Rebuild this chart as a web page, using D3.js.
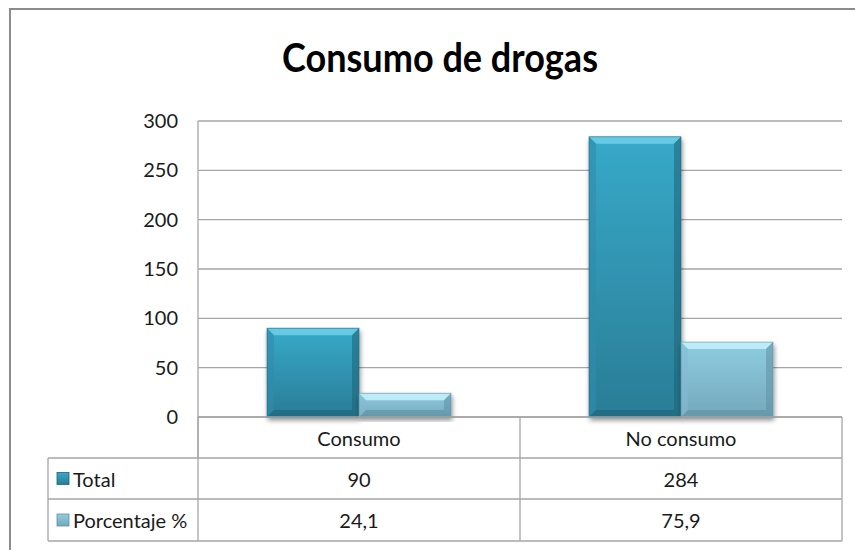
<!DOCTYPE html>
<html>
<head>
<meta charset="utf-8">
<script src="https://cdn.jsdelivr.net/npm/d3@7"></script>
<style>
  html, body { margin: 0; padding: 0; background: #fff; }
  svg text { font-family: Lato, "Open Sans", sans-serif; }
</style>
</head>
<body>
<svg id="chart" width="855" height="550"></svg>
<script>
const title = "Consumo de drogas";
const categories = ["Consumo", "No consumo"];
const seriesNames = ["Total", "Porcentaje %"];
const totalValues = [90, 284];
const percentValues = [24.1, 75.9];
const percentLabels = ["24,1", "75,9"];
const yTicks = [0, 50, 100, 150, 200, 250, 300];

const svg = d3.select("#chart");
const plot = { left: 198, right: 842, top: 121, bottom: 417 };
const textColor = "#1a1a1a";

const defs = svg.append("defs");
function grad(id, stops) {
  const g = defs.append("linearGradient").attr("id", id).attr("x1", 0).attr("y1", 0).attr("x2", 0).attr("y2", 1);
  stops.forEach(s => g.append("stop").attr("offset", s[0]).attr("stop-color", s[1]));
}
grad("gTotal", [[0, "#37a9c9"], [1, "#2a7d96"]]);
grad("gPct", [[0, "#8fcde2"], [1, "#75a8bb"]]);
const f = defs.append("filter").attr("id", "shadow").attr("x", "-20%").attr("y", "-20%").attr("width", "140%").attr("height", "140%");
f.append("feGaussianBlur").attr("in", "SourceAlpha").attr("stdDeviation", 2.5);
f.append("feOffset").attr("dx", 1).attr("dy", 3).attr("result", "ob");
f.append("feComponentTransfer").append("feFuncA").attr("type", "linear").attr("slope", 0.45);
const fm = f.append("feMerge");
fm.append("feMergeNode");
fm.append("feMergeNode").attr("in", "SourceGraphic");

// outer frame
svg.append("rect").attr("x", 10).attr("y", 9).attr("width", 900).attr("height", 600)
  .attr("fill", "none").attr("stroke", "#8c8c8c").attr("stroke-width", 2);

// title
svg.append("text").attr("x", 440).attr("y", 72).attr("text-anchor", "middle")
  .attr("font-size", 40).attr("font-weight", "bold").attr("fill", "#000")
  .attr("textLength", 316).attr("lengthAdjust", "spacingAndGlyphs").text(title);

const y = d3.scaleLinear().domain([0, 300]).range([plot.bottom, plot.top]);
const x0 = d3.scaleBand().domain(categories).range([plot.left, plot.right]);
const x1 = d3.scaleBand().domain(seriesNames).range([0, x0.bandwidth()]).paddingOuter(0.75).paddingInner(0);

// gridlines
svg.append("g").selectAll("line").data(yTicks).join("line")
  .attr("x1", plot.left).attr("x2", plot.right)
  .attr("y1", d => y(d)).attr("y2", d => y(d))
  .attr("stroke", "#a6a6a6").attr("stroke-width", 1.3);

// y-axis line
svg.append("line").attr("x1", plot.left).attr("x2", plot.left).attr("y1", plot.top).attr("y2", 458)
  .attr("stroke", "#a6a6a6").attr("stroke-width", 1.3);

// y tick labels
const yAxis = d3.axisLeft(y).tickValues(yTicks).tickSize(0).tickPadding(20);
const ya = svg.append("g").attr("transform", `translate(${plot.left},0)`).call(yAxis);
ya.select(".domain").remove();
ya.selectAll("text").attr("font-size", 20).attr("fill", textColor)
  .style("font-family", 'Lato, "Open Sans", sans-serif');

// bars
const data = [];
categories.forEach((c, i) => {
  data.push({ cat: c, s: seriesNames[0], v: totalValues[i], fill: "url(#gTotal)", light: "#6fd0ea", dark: "#1f6377", side: "#2f8cab" });
  data.push({ cat: c, s: seriesNames[1], v: percentValues[i], fill: "url(#gPct)", light: "#c6f1fb", dark: "#5f8fa2", side: "#86bbd0" });
});
const bev = 7;
const bars = svg.append("g").selectAll("g").data(data).join("g").attr("filter", "url(#shadow)");
bars.each(function(d) {
  const g = d3.select(this);
  const bx = x0(d.cat) + x1(d.s), bw = x1.bandwidth();
  const by = y(d.v), bh = y(0) - y(d.v);
  const b = Math.min(bev, bh / 2);
  g.append("rect").attr("x", bx).attr("y", by).attr("width", bw).attr("height", bh).attr("fill", d.fill);
  g.append("polygon").attr("points", [[bx, by], [bx + bw, by], [bx + bw - b, by + b], [bx + b, by + b]].join(" "))
    .attr("fill", d.light).attr("opacity", 0.85);
  g.append("polygon").attr("points", [[bx, by], [bx + b, by + b], [bx + b, by + bh - b], [bx, by + bh]].join(" "))
    .attr("fill", d.side).attr("opacity", 0.6);
  g.append("polygon").attr("points", [[bx + bw, by], [bx + bw, by + bh], [bx + bw - b, by + bh - b], [bx + bw - b, by + b]].join(" "))
    .attr("fill", d.dark).attr("opacity", 0.55);
  g.append("polygon").attr("points", [[bx, by + bh], [bx + b, by + bh - b], [bx + bw - b, by + bh - b], [bx + bw, by + bh]].join(" "))
    .attr("fill", d.dark).attr("opacity", 0.6);
  g.append("rect").attr("x", bx).attr("y", by).attr("width", bw).attr("height", bh)
    .attr("fill", "none").attr("stroke", d.dark).attr("stroke-width", 0.8).attr("opacity", 0.7);
});

// data table
const rowLines = [417, 458, 499, 541];
const tableLeft = 48;
const tg = svg.append("g");
const stroke = "#a6a6a6";
tg.append("line").attr("x1", plot.left).attr("x2", plot.right).attr("y1", rowLines[0]).attr("y2", rowLines[0]).attr("stroke", stroke).attr("stroke-width", 1.3);
[1, 2, 3].forEach(i => tg.append("line").attr("x1", tableLeft).attr("x2", plot.right)
  .attr("y1", rowLines[i]).attr("y2", rowLines[i]).attr("stroke", stroke).attr("stroke-width", 1.3));
tg.append("line").attr("x1", tableLeft).attr("x2", tableLeft).attr("y1", rowLines[1]).attr("y2", rowLines[3]).attr("stroke", stroke).attr("stroke-width", 1.3);
tg.append("line").attr("x1", plot.left).attr("x2", plot.left).attr("y1", rowLines[0]).attr("y2", rowLines[3]).attr("stroke", stroke).attr("stroke-width", 1.3);
categories.forEach(c => {
  const xe = x0(c) + x0.bandwidth();
  tg.append("line").attr("x1", xe).attr("x2", xe).attr("y1", rowLines[0]).attr("y2", rowLines[3]).attr("stroke", stroke).attr("stroke-width", 1.3);
});
const fs = 20;
tg.selectAll("text.cat").data(categories).join("text").attr("class", "cat")
  .attr("x", d => x0(d) + x0.bandwidth() / 2).attr("y", (rowLines[0] + rowLines[1]) / 2 + 8)
  .attr("text-anchor", "middle").attr("font-size", fs).attr("fill", textColor).text(d => d);
const rows = [
  { name: seriesNames[0], vals: totalValues.map(String), fill: "url(#gTotal)", edge: "#1f6377" },
  { name: seriesNames[1], vals: percentLabels, fill: "url(#gPct)", edge: "#5f8fa2" }
];
rows.forEach((r, i) => {
  const yc = (rowLines[i + 1] + rowLines[i + 2]) / 2;
  tg.append("rect").attr("x", 57).attr("y", yc - 6).attr("width", 12).attr("height", 12).attr("fill", r.fill)
    .attr("stroke", r.edge).attr("stroke-width", 0.8);
  tg.append("text").attr("x", 73).attr("y", yc + 8).attr("font-size", fs).attr("fill", textColor).text(r.name);
  r.vals.forEach((v, j) => {
    tg.append("text").attr("x", x0(categories[j]) + x0.bandwidth() / 2).attr("y", yc + 8)
      .attr("text-anchor", "middle").attr("font-size", fs).attr("fill", textColor).text(v);
  });
});
</script>
</body>
</html>
